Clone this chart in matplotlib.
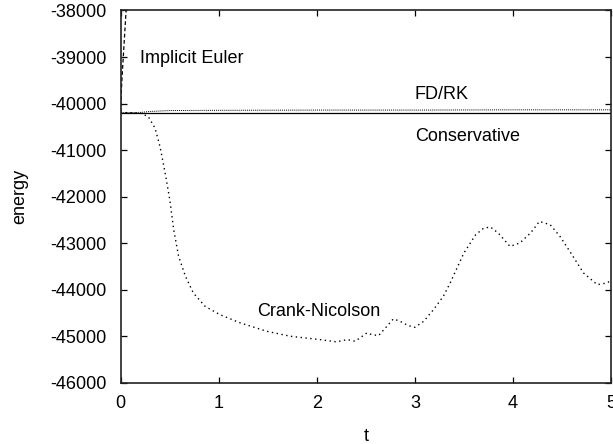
import matplotlib
matplotlib.use("Agg")
import matplotlib.pyplot as plt

plt.rcParams['font.family'] = ['Liberation Sans', 'DejaVu Sans']

# Data
t_cons = [0, 5]
e_cons = [-40195, -40195]

t_fdrk = [0, 0.2, 0.3, 0.5, 1.0, 2.0, 3.0, 4.0, 5.0]
e_fdrk = [-40195, -40190, -40170, -40150, -40145, -40140, -40140, -40135, -40135]

t_ie = [0, 0.005, 0.01, 0.02, 0.03, 0.04, 0.05, 0.06]
e_ie = [-40190, -39800, -39560, -39200, -38850, -38500, -38150, -37800]

t_cn = [0, 0.1, 0.2, 0.28, 0.35, 0.40, 0.44, 0.47, 0.50, 0.54, 0.59, 0.66, 0.74, 0.86,
        1.01, 1.22, 1.49, 1.73, 1.90, 2.03, 2.20, 2.31, 2.39, 2.44, 2.51, 2.56, 2.63,
        2.70, 2.78, 2.85, 2.93, 3.00, 3.09, 3.19, 3.29, 3.36, 3.50, 3.62, 3.70, 3.77,
        3.85, 3.97, 4.07, 4.18, 4.27, 4.38, 4.48, 4.58, 4.72, 4.86, 4.96, 5.0]
e_cn = [-40195, -40195, -40206, -40279, -40528, -40923, -41352, -41700, -42066, -42710,
        -43283, -43712, -44069, -44356, -44534, -44713, -44893, -45000, -45040, -45071,
        -45120, -45071, -45107, -45035, -44928, -44964, -44985, -44820, -44627, -44678,
        -44770, -44807, -44678, -44427, -44142, -43854, -43210, -42818, -42680, -42652,
        -42781, -43069, -42996, -42781, -42532, -42603, -42854, -43176, -43640, -43891,
        -43854, -43798]

x_ticks = [0, 1, 2, 3, 4, 5]
y_ticks = [-46000, -45000, -44000, -43000, -42000, -41000, -40000, -39000, -38000]

fig = plt.figure(figsize=(6.13, 4.44), dpi=100)
ax = fig.add_axes([0.197, 0.1378, 0.7997, 0.8386])

ax.plot(t_cons, e_cons, color='black', lw=0.9, ls='-')
ax.plot(t_fdrk, e_fdrk, color='black', lw=0.7, ls=(0, (1, 1)))
ax.plot(t_ie, e_ie, color='black', lw=0.9, ls=(0, (3, 2)))
ax.plot(t_cn, e_cn, color='black', lw=1.0, ls=(0, (1, 2.5)))

ax.set_xlim(0, 5)
ax.set_ylim(-46000, -38000)
ax.set_xticks(x_ticks)
ax.set_xticklabels([str(v) for v in x_ticks])
ax.set_yticks(y_ticks)
ax.set_yticklabels([str(v) for v in y_ticks])

ax.tick_params(direction='in', length=4.5, width=0.9, top=True, right=True,
               labelsize=13)
ax.tick_params(axis='x', pad=9)
ax.tick_params(axis='y', pad=10)
for s in ax.spines.values():
    s.set_linewidth(1.2)
    s.set_color('#222222')

ax.set_xlabel('t', fontsize=13, labelpad=11)
ax.set_ylabel('energy', fontsize=13, labelpad=16)

ax.text(0.197, -39027, 'Implicit Euler', fontsize=13, ha='left', va='center')
ax.text(3.0, -39815, 'FD/RK', fontsize=13, ha='left', va='center')
ax.text(3.0, -40700, 'Conservative', fontsize=13, ha='left', va='center')
ax.text(1.393, -44470, 'Crank-Nicolson', fontsize=13, ha='left', va='center')

fig.savefig('out.png', dpi=100)
